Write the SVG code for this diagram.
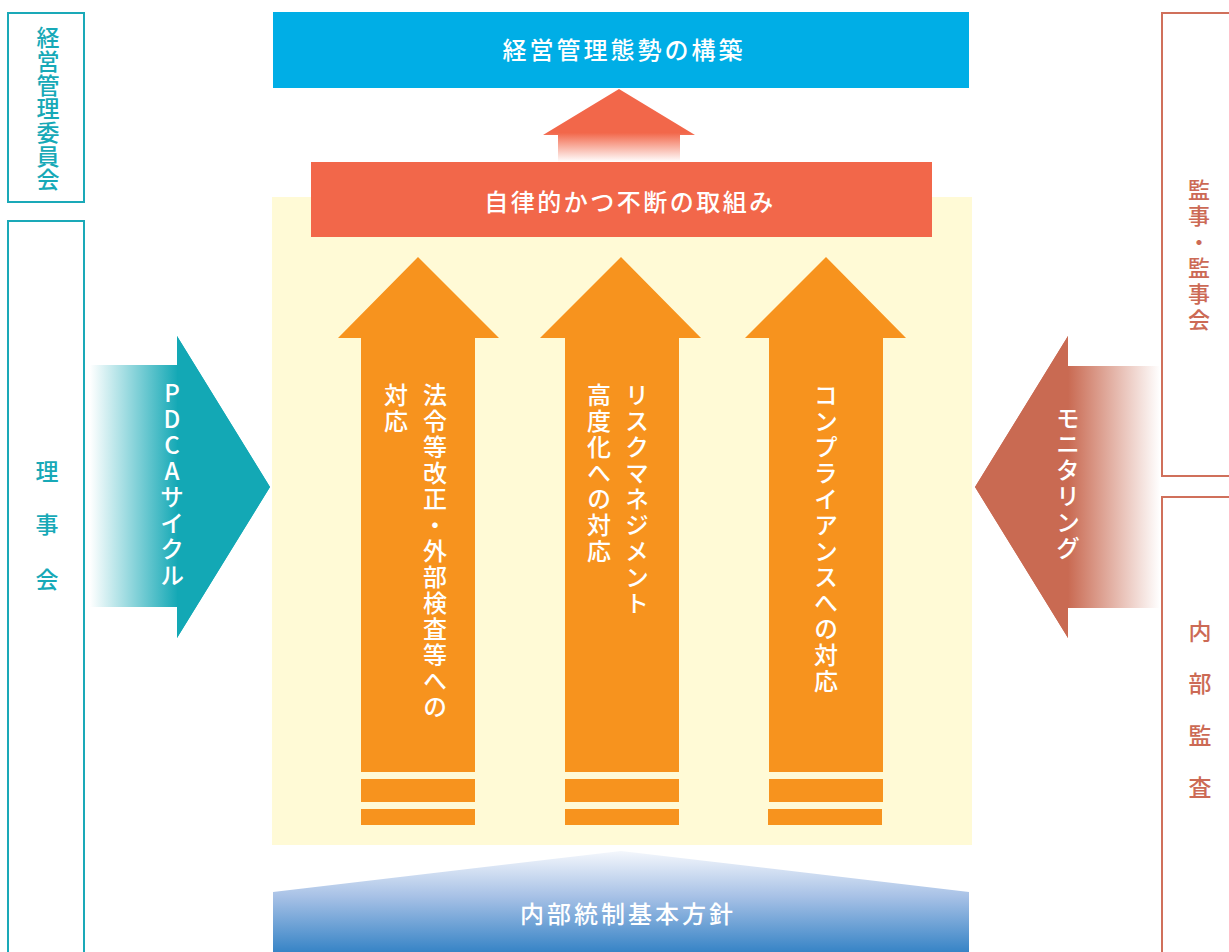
<svg xmlns="http://www.w3.org/2000/svg" width="1229" height="952" viewBox="0 0 1229 952">
<style>
.t{font-family:"Noto Sans CJK JP","Noto Sans",sans-serif;font-weight:500;}
.w{fill:#ffffff;}
.v{writing-mode:vertical-rl;text-orientation:upright;}
.teal{fill:#17a9b7;}
.rust{fill:#cc6a55;}
.boxT{fill:none;stroke:#1aa9b8;stroke-width:2;}
.boxR{fill:none;stroke:#d0705b;stroke-width:2;}
.orange{fill:#f7931e;}
</style>
<defs>
<linearGradient id="gPdca" gradientUnits="userSpaceOnUse" x1="90" y1="0" x2="178" y2="0">
<stop offset="0" stop-color="#ffffff"/>
<stop offset="1" stop-color="#13a8b5"/>
</linearGradient>
<linearGradient id="gMon" gradientUnits="userSpaceOnUse" x1="1068" y1="0" x2="1160" y2="0">
<stop offset="0" stop-color="#c96a52"/>
<stop offset="1" stop-color="#ffffff"/>
</linearGradient>
<linearGradient id="gUp" gradientUnits="userSpaceOnUse" x1="0" y1="89" x2="0" y2="162">
<stop offset="0.6" stop-color="#f2674a"/>
<stop offset="1" stop-color="#ffffff"/>
</linearGradient>
<linearGradient id="gBase" gradientUnits="userSpaceOnUse" x1="0" y1="851" x2="0" y2="952">
<stop offset="0" stop-color="#f4f7fc"/>
<stop offset="0.45" stop-color="#a7c1e6"/>
<stop offset="1" stop-color="#3784c6"/>
</linearGradient>
</defs>

<rect x="272" y="197" width="700" height="648" fill="#fffad6"/>

<g id="keiei-iinkai">
<rect class="boxT" x="8" y="13" width="76" height="189"/>
<text class="t v teal" x="48" y="26" font-size="23" letter-spacing="0.7">経営管理委員会</text>
</g>

<g id="rijikai">
<rect class="boxT" x="8" y="221" width="76" height="740"/>
<text class="t teal" x="47" y="470" font-size="23" text-anchor="middle" dominant-baseline="central">理</text>
<text class="t teal" x="47" y="523" font-size="23" text-anchor="middle" dominant-baseline="central">事</text>
<text class="t teal" x="47" y="578" font-size="23" text-anchor="middle" dominant-baseline="central">会</text>
</g>

<g id="kanji">
<rect class="boxR" x="1162" y="13" width="80" height="463"/>
<text class="t v rust" x="1199" y="179" font-size="22" letter-spacing="4">監事・監事会</text>
</g>

<g id="naibu-kansa">
<rect class="boxR" x="1162" y="497" width="80" height="470"/>
<text class="t rust" x="1200" y="630" font-size="23" text-anchor="middle" dominant-baseline="central">内</text>
<text class="t rust" x="1200" y="682" font-size="23" text-anchor="middle" dominant-baseline="central">部</text>
<text class="t rust" x="1200" y="734" font-size="23" text-anchor="middle" dominant-baseline="central">監</text>
<text class="t rust" x="1200" y="786" font-size="23" text-anchor="middle" dominant-baseline="central">査</text>
</g>

<g id="top-bar">
<rect x="273" y="12" width="696" height="76" fill="#00aee6"/>
<text class="t w" x="624" y="48" font-size="24" letter-spacing="3" text-anchor="middle" dominant-baseline="central">経営管理態勢の構築</text>
</g>

<g id="red-bar">
<rect x="311" y="162" width="621" height="75" fill="#f2674a"/>
<text class="t w" x="630" y="200" font-size="24" letter-spacing="2.5" text-anchor="middle" dominant-baseline="central">自律的かつ不断の取組み</text>
</g>

<g id="arrow1">
<path class="orange" d="M418,257 L499,338 L475,338 L475,772 L361,772 L361,338 L338,338 Z"/>
<rect class="orange" x="361" y="779" width="114" height="23"/>
<rect class="orange" x="361" y="809" width="114" height="16"/>
<text class="t v w" x="435" y="383" font-size="24" letter-spacing="2">法令等改正・外部検査等への</text>
<text class="t v w" x="396" y="383" font-size="24" letter-spacing="2">対応</text>
</g>

<g id="arrow2">
<path class="orange" d="M621,257 L701,338 L679,338 L679,772 L565,772 L565,338 L540,338 Z"/>
<rect class="orange" x="565" y="779" width="114" height="23"/>
<rect class="orange" x="565" y="809" width="114" height="16"/>
<text class="t v w" x="637" y="383" font-size="24" letter-spacing="2">リスクマネジメント</text>
<text class="t v w" x="599" y="383" font-size="24" letter-spacing="2">高度化への対応</text>
</g>

<g id="arrow3">
<path class="orange" d="M826,257 L906,338 L883,338 L883,772 L769,772 L769,338 L745,338 Z"/>
<rect class="orange" x="769" y="779" width="114" height="23"/>
<rect class="orange" x="768" y="809" width="114" height="16"/>
<text class="t v w" x="826" y="383" font-size="24" letter-spacing="2">コンプライアンスへの対応</text>
</g>

<g id="connectors">
<path d="M619,89 L695,135 L680,135 L680,162 L558,162 L558,135 L543,135 Z" fill="url(#gUp)"/>
<g id="pdca">
<path d="M90,365 L177,365 L177,336 L270,487 L177,638 L177,607 L90,607 Z" fill="url(#gPdca)"/>
<path d="M177,336 L270,487 L177,638 Z" fill="#13a8b5"/>
<text class="t v w" x="172" y="381" font-size="24" letter-spacing="2">PDCAサイクル</text>
</g>
<g id="monitoring">
<path d="M1160,366 L1068,366 L1068,336 L975,487 L1068,638 L1068,608 L1160,608 Z" fill="url(#gMon)"/>
<path d="M1068,336 L975,487 L1068,638 Z" fill="#c96a52"/>
<text class="t v w" x="1068" y="406" font-size="24" letter-spacing="2">モニタリング</text>
</g>
</g>

<g id="base">
<path d="M273,892 L621,851 L969,892 L969,952 L273,952 Z" fill="url(#gBase)"/>
<text class="t w" x="628" y="912" font-size="24" letter-spacing="3" text-anchor="middle" dominant-baseline="central">内部統制基本方針</text>
</g>
</svg>
